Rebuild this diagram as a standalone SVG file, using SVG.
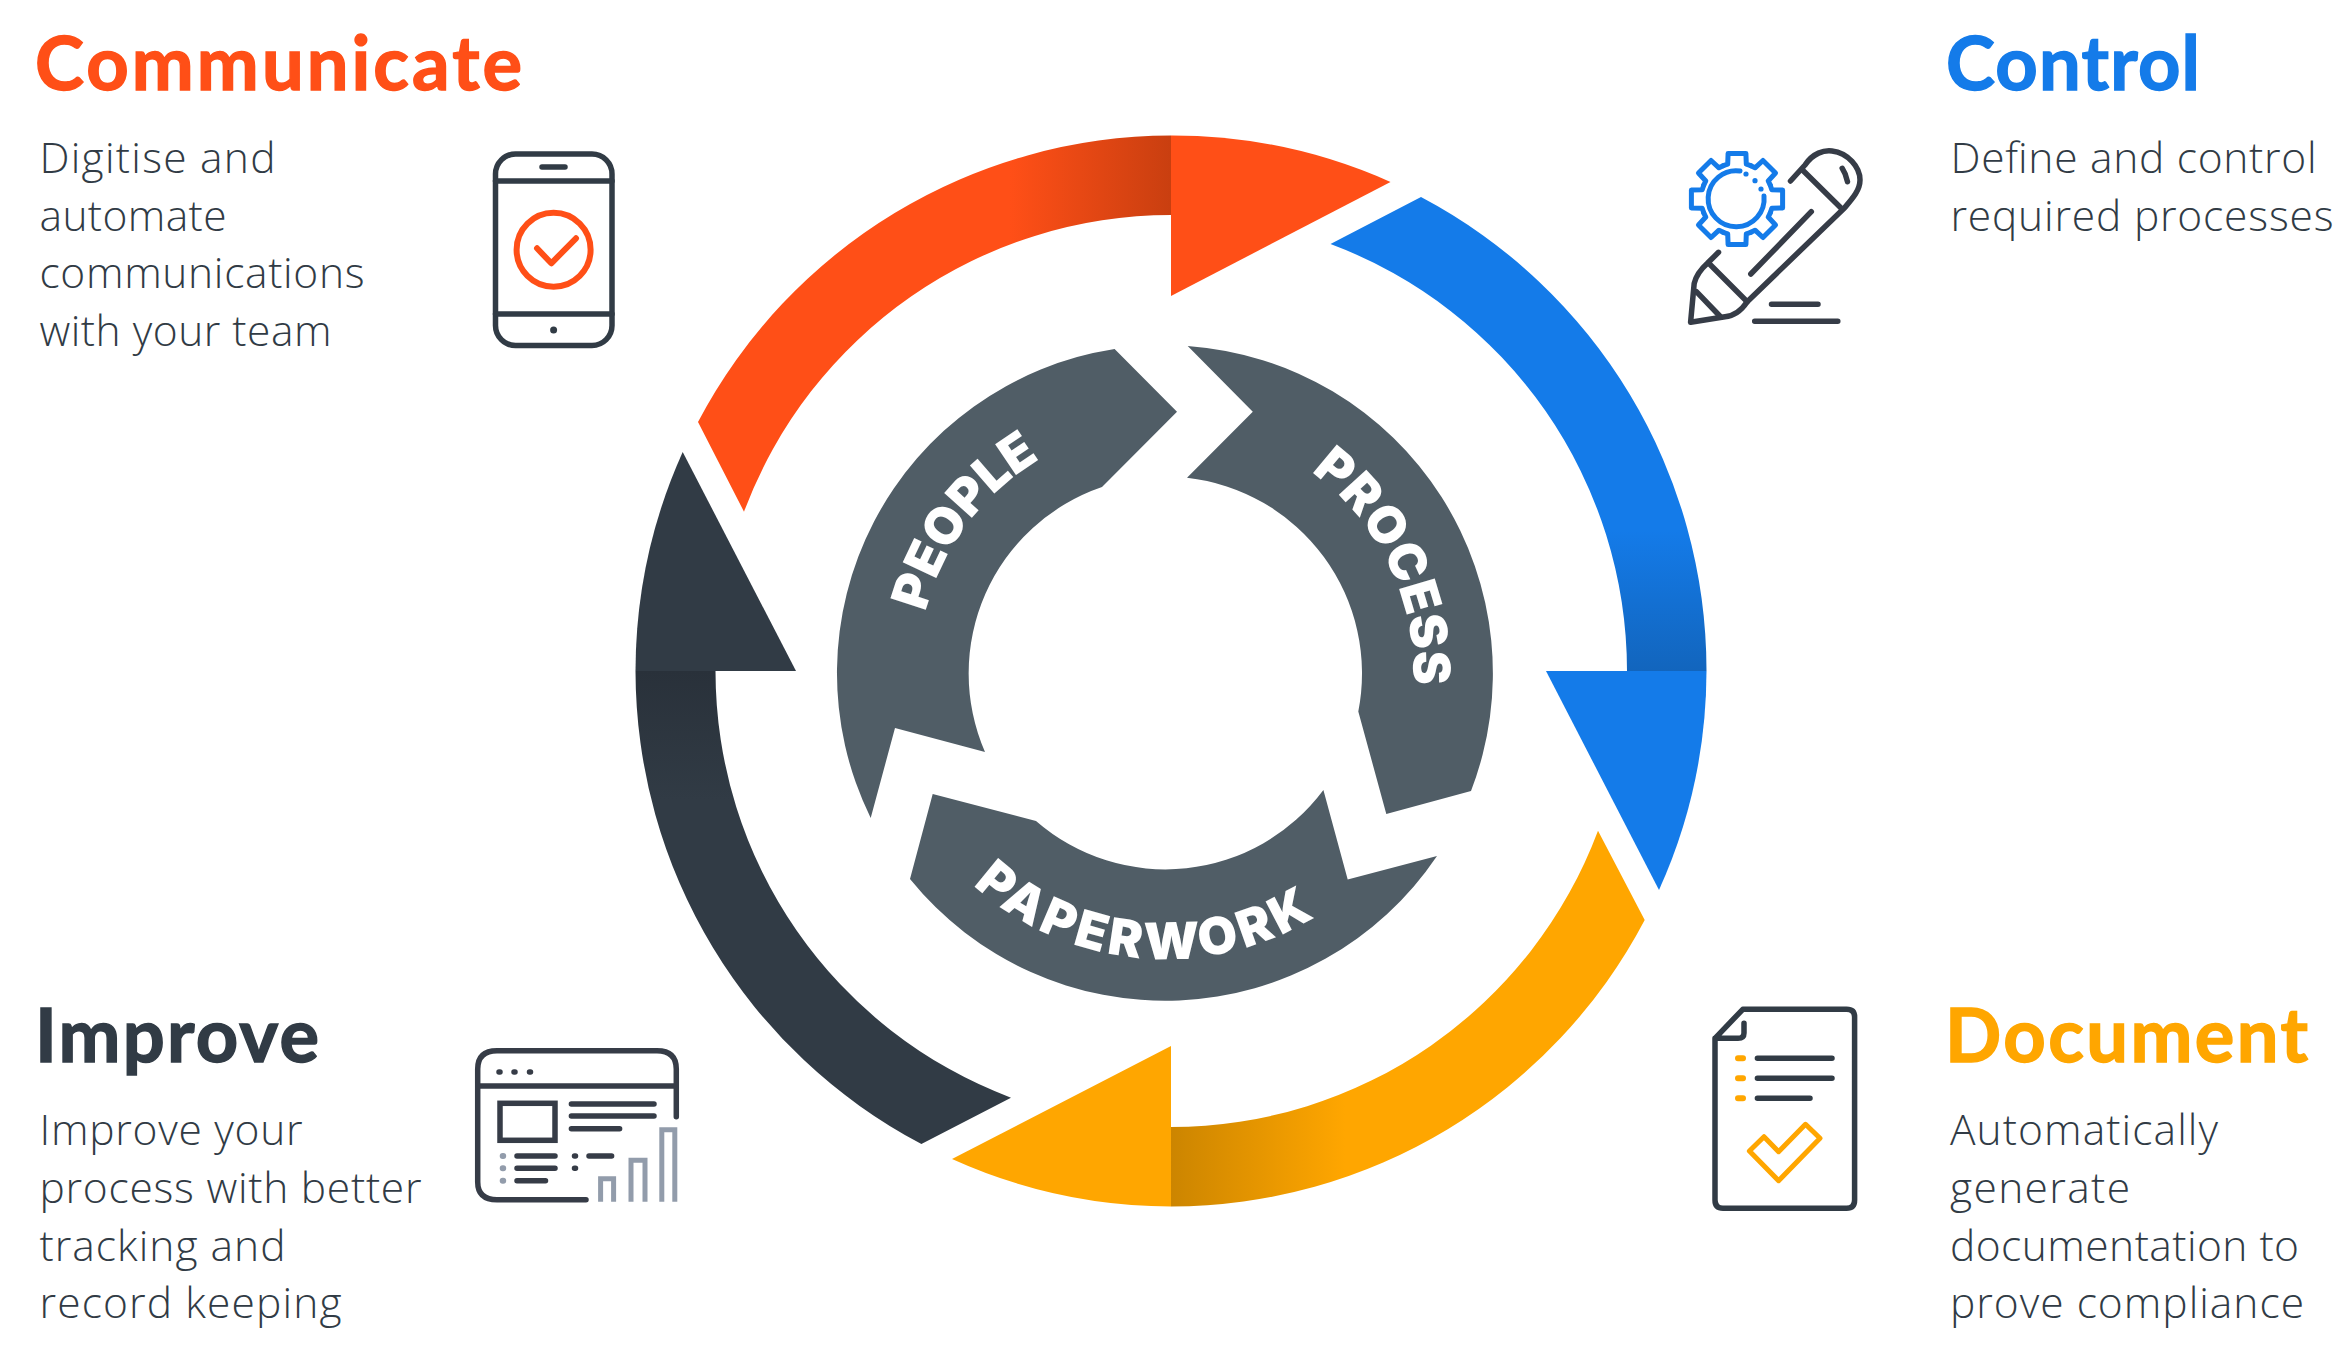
<svg xmlns="http://www.w3.org/2000/svg" xmlns:xlink="http://www.w3.org/1999/xlink" width="2343" height="1352" viewBox="0 0 2343 1352">
<style>
.h{font-family:"Lato","Liberation Sans",sans-serif;font-weight:700;font-size:74px;stroke-width:1.4}
.b{font-family:"Open Sans","Liberation Sans",sans-serif;font-weight:300;font-size:42.5px;fill:#313b45}
.i{fill:none;stroke:#313b45;stroke-width:5.5;stroke-linecap:round;stroke-linejoin:round}
.t{font-family:"Inter","Liberation Sans",sans-serif;font-weight:900;fill:#fff;font-size:51px}
.ink{fill:#505d66}
</style>
<defs>
<linearGradient id="gO" gradientUnits="userSpaceOnUse" x1="1171" y1="0" x2="1010" y2="0"><stop offset="0" stop-color="#c93f10"/><stop offset="1" stop-color="#ff4f17"/></linearGradient>
<linearGradient id="gB" gradientUnits="userSpaceOnUse" x1="0" y1="671" x2="0" y2="530"><stop offset="0" stop-color="#1265bd"/><stop offset="1" stop-color="#147be9"/></linearGradient>
<linearGradient id="gA" gradientUnits="userSpaceOnUse" x1="1171" y1="0" x2="1345" y2="0"><stop offset="0" stop-color="#cc8500"/><stop offset="1" stop-color="#ffa600"/></linearGradient>
<linearGradient id="gD" gradientUnits="userSpaceOnUse" x1="0" y1="671" x2="0" y2="800"><stop offset="0" stop-color="#29313a"/><stop offset="1" stop-color="#313b45"/></linearGradient>
<path id="pPeople" d="M925.5 612 A248 248 0 0 1 1060.7 448.2"/>
<path id="pProcess" d="M1311 472 A248 248 0 0 1 1409.7 716"/>
<path id="pPaper" d="M973 885 A286 286 0 0 0 1349.3 892"/>
<polyline id="tooth" points="-13.8,-33.3 -9.3,-34.8 -8.9,-45.6 8.9,-45.6 9.3,-34.8 13.8,-33.3" fill="none" stroke="#147be9" stroke-width="5" stroke-linejoin="round" stroke-linecap="round"/>
</defs>
<rect width="2343" height="1352" fill="#fff"/>
<g id="connectors">
<path d="M698 422A535.5 535.5 0 0 1 1171 135.5V215A456 456 0 0 0 744 511.7Z" fill="url(#gO)"/>
<path d="M1171 135.5A535.5 535.5 0 0 1 1390.5 182L1171 296Z" fill="#ff4f17"/>
<path d="M1421 197A535.5 535.5 0 0 1 1706.5 671H1627A456 456 0 0 0 1330.5 244Z" fill="url(#gB)"/>
<path d="M1706.5 671A535.5 535.5 0 0 1 1659 890L1546 671Z" fill="#147be9"/>
<path d="M1644.7 920A535.5 535.5 0 0 1 1171 1206.5V1127A456 456 0 0 0 1598 830.7Z" fill="url(#gA)"/>
<path d="M1171 1206.5A535.5 535.5 0 0 1 952 1159L1171 1046Z" fill="#ffa600"/>
<path d="M921.4 1144A535.5 535.5 0 0 1 635.5 671H715.5A456 456 0 0 0 1011 1097.7Z" fill="url(#gD)"/>
<path d="M635.5 671A535.5 535.5 0 0 1 682.7 452L796 671Z" fill="#313b45"/>
</g>
<g id="people">
<path class="ink" d="M1114.6 349L1177 411.7L1102 487A197 197 0 0 0 985 752L895 728L870.7 818A328 328 0 0 1 1114.6 349Z"/>
<text class="t"><textPath href="#pPeople" textLength="196" lengthAdjust="spacing">PEOPLE</textPath></text>
</g>
<g id="process">
<path class="ink" d="M1187.7 346L1252.8 411.7L1187 477.7A197 197 0 0 1 1358.3 711.5L1386.3 814L1471 791A328 328 0 0 0 1187.7 346Z"/>
<text class="t"><textPath href="#pProcess" textLength="246" lengthAdjust="spacing">PROCESS</textPath></text>
</g>
<g id="paperwork">
<path class="ink" d="M1323.4 790L1347.7 879.4L1437 856A328 328 0 0 1 910 879L932.7 794L1036 821A197 197 0 0 0 1323.4 790Z"/>
<text class="t"><textPath href="#pPaper" textLength="368" lengthAdjust="spacing">PAPERWORK</textPath></text>
</g>
<g id="communicate">
<text class="h" x="35" y="90" fill="#ff4f17" stroke="#ff4f17" textLength="487">Communicate</text>
<text class="b" x="39.5" y="172.7" textLength="236">Digitise and</text>
<text class="b" x="39.5" y="230.5" textLength="187">automate</text>
<text class="b" x="39.5" y="288.2" textLength="325">communications</text>
<text class="b" x="39.5" y="346" textLength="292">with your team</text>
<rect class="i" x="495.5" y="154" width="116.5" height="191.5" rx="20"/>
<path class="i" d="M495.5 181H612M495.5 314H612M542 167H565"/>
<circle cx="553.6" cy="330" r="3.5" fill="#313b45"/>
<circle cx="553.6" cy="249.7" r="37" fill="none" stroke="#ff4f17" stroke-width="6"/>
<polyline points="537,248.3 551.3,263.3 576,238.3" fill="none" stroke="#ff4f17" stroke-width="6" stroke-linecap="round" stroke-linejoin="round"/>
</g>
<g id="control">
<text class="h" x="1946" y="90" fill="#147be9" stroke="#147be9" textLength="254">Control</text>
<text class="b" x="1950.5" y="172.7" textLength="366">Define and control</text>
<text class="b" x="1950.5" y="230.5" textLength="383">required processes</text>
<g transform="translate(1737 199)">
<use href="#tooth"/><use href="#tooth" transform="rotate(45)"/><use href="#tooth" transform="rotate(90)"/><use href="#tooth" transform="rotate(135)"/><use href="#tooth" transform="rotate(180)"/><use href="#tooth" transform="rotate(225)"/><use href="#tooth" transform="rotate(270)"/><use href="#tooth" transform="rotate(315)"/>
<path d="M3 -28A28 28 0 1 0 27 -3" fill="none" stroke="#147be9" stroke-width="5" stroke-linecap="round"/>
<circle cx="9" cy="-25" r="2.6" fill="#147be9"/><circle cx="18" cy="-18.3" r="2.6" fill="#147be9"/><circle cx="24" cy="-10" r="2.6" fill="#147be9"/>
</g>
<path class="i" style="stroke:#363c47" d="M1790.5 181L1805 165C1813 153 1824 150 1832 151C1848 153 1860 167 1860 180C1860 190 1853 198 1844.4 208L1747.2 301.7C1741 311 1733 316 1725 316.7L1690.6 322.3L1694.2 283.3C1696 276 1700 270 1707.4 263.3L1718.5 252.3"/>
<path class="i" style="stroke:#363c47" d="M1802.5 170L1841 208M1708.8 263.3L1747.2 301.7M1696.4 291.7L1719.8 316M1811.3 211.7L1750.8 274M1842.2 168.3Q1846 174 1847.5 181.7M1771.5 304.3H1818M1754.7 321.3H1837.8"/>
</g>
<g id="improve">
<text class="h" x="35" y="1061.7" fill="#313b45" stroke="#313b45" textLength="284">Improve</text>
<text class="b" x="39.5" y="1144.5" textLength="263">Improve your</text>
<text class="b" x="39.5" y="1202.5" textLength="382">process with better</text>
<text class="b" x="39.5" y="1260.5" textLength="246">tracking and</text>
<text class="b" x="39.5" y="1318" textLength="302">record keeping</text>
<path class="i" style="stroke:#363c47" d="M586 1199.7H497Q477.7 1199.7 477.7 1182V1069Q477.7 1050.7 497 1050.7H657Q676.3 1050.7 676.3 1069V1116.7M477.7 1086H676.3"/>
<path class="i" style="stroke:#363c47" d="M499 1072h1M514 1072h1M529.5 1072h1M571.4 1104H654M571.4 1116H654M571.4 1128.7H619.6M517 1156H555M517 1168.3H555M517 1180.7H545.5M574.5 1156h1M574.5 1168.3h1M589 1156H611.6"/>
<rect x="500" y="1103.3" width="55" height="37" fill="none" stroke="#363c47" stroke-width="5.5"/>
<path d="M502.7 1156h.5M502.7 1168.3h.5M502.7 1180.7h.5" fill="none" stroke="#929cab" stroke-width="6" stroke-linecap="round"/>
<path d="M600.6 1201.7V1178.7H613.6V1201.7M631 1201.7V1160.3H645V1201.7M661.8 1201.7V1129.7H674.8V1201.7" fill="none" stroke="#929cab" stroke-width="5"/>
</g>
<g id="document">
<text class="h" x="1945" y="1061.7" fill="#ffa600" stroke="#ffa600" textLength="363">Document</text>
<text class="b" x="1950" y="1144.5" textLength="268">Automatically</text>
<text class="b" x="1950" y="1202.5" textLength="180">generate</text>
<text class="b" x="1950" y="1260.5" textLength="349">documentation to</text>
<text class="b" x="1950" y="1318" textLength="354">prove compliance</text>
<path class="i" d="M1715 1038.3L1742.8 1009.3H1846.6Q1854.6 1009.3 1854.6 1017V1200Q1854.6 1208.3 1846.6 1208.3H1723Q1715 1208.3 1715 1200ZM1744 1023.3V1033Q1744 1038.3 1738 1038.3H1715M1757.4 1058.3H1832M1757.4 1078.3H1832M1757.4 1098.3H1810"/>
<path d="M1738 1058.3h5M1738 1078.3h5M1738 1098.3h5" fill="none" stroke="#ffa600" stroke-width="6" stroke-linecap="round"/>
<polygon points="1805.5,1124.3 1820,1138.3 1778.6,1180.7 1749.4,1151 1764,1136.7 1778.6,1151.7" fill="none" stroke="#ffa600" stroke-width="5" stroke-linejoin="round"/>
</g>
</svg>
